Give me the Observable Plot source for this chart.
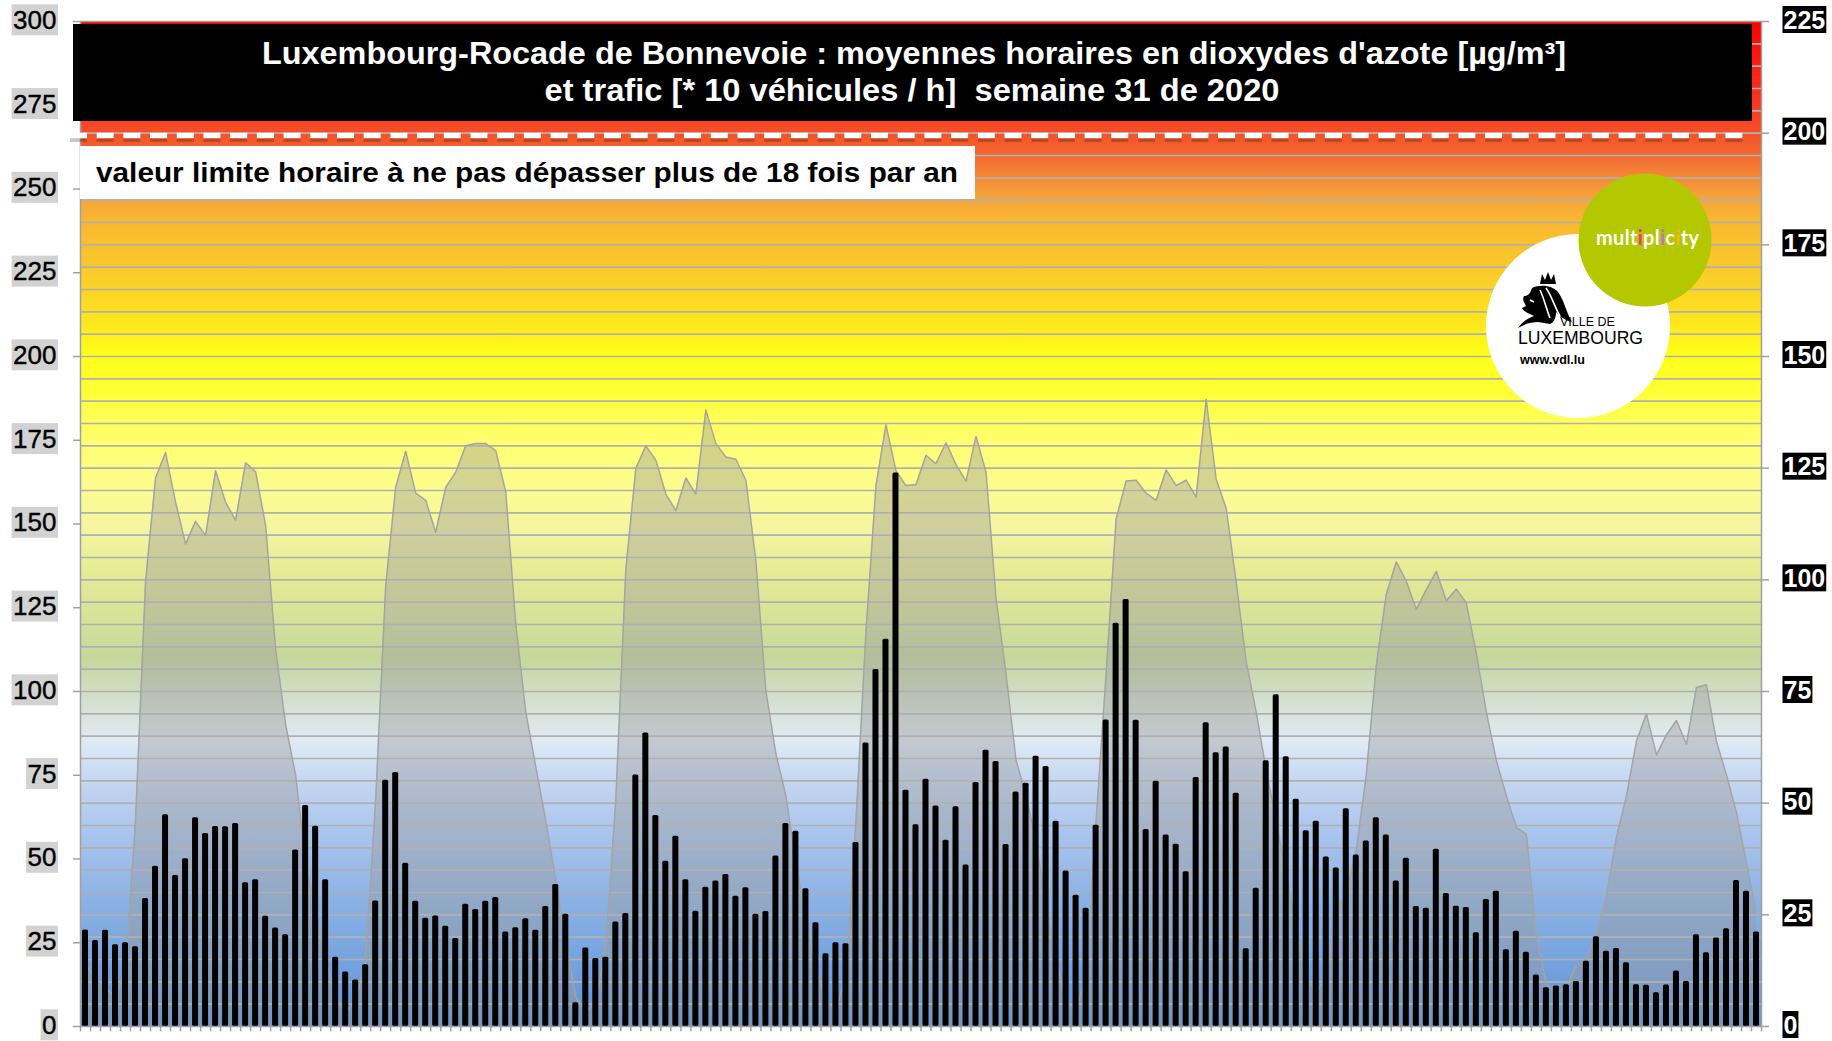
<!DOCTYPE html>
<html><head><meta charset="utf-8">
<script src="https://cdn.jsdelivr.net/npm/d3@7"></script>
<script src="https://cdn.jsdelivr.net/npm/@observablehq/plot@0.6"></script>
<style>
html,body{margin:0;padding:0;background:#fff;}
#chart{position:relative;width:1832px;height:1041px;}
#chart svg{font-family:"Liberation Sans",Arial,sans-serif;display:block;}
</style></head><body><div id="chart"></div>
<script>
// NO2 hourly means [µg/m³], week 31 of 2020 (168 hours)
const no2 = [
28.8,25.7,28.7,24.4,25.0,23.8,38.2,47.8,63.2,45.1,50.1,62.3,57.6,59.7,59.6,60.6,42.9,43.8,32.9,29.4,27.4,52.7,66.0,59.8,
43.8,20.7,16.3,13.9,18.4,37.5,73.5,75.8,48.7,37.4,32.3,33.0,29.9,26.3,36.5,34.9,37.4,38.5,28.2,29.5,32.2,28.7,35.8,42.4,
33.5,7.1,23.4,20.3,20.7,31.2,33.7,75.1,87.6,63.0,49.3,56.8,43.8,34.4,41.6,43.4,45.4,38.9,41.4,33.5,34.3,50.9,60.6,58.3,
41.1,31.0,21.7,25.0,24.7,54.9,84.6,106.6,115.6,165.2,70.5,60.2,73.8,65.8,55.6,65.6,48.2,72.8,82.5,79.1,54.3,70.0,72.6,80.7,
77.6,61.3,46.4,39.2,35.3,60.1,91.5,120.4,127.5,91.4,58.8,73.2,57.2,54.4,46.2,74.3,90.7,81.7,83.4,69.6,23.2,41.3,79.3,99.0,
80.5,67.8,58.4,61.3,50.6,47.3,65.0,51.2,55.4,62.3,57.2,43.4,50.2,35.8,35.3,52.9,39.7,35.9,35.5,28.0,37.9,40.4,22.9,28.4,
22.2,15.4,11.6,12.1,12.5,13.4,19.5,26.8,22.5,23.3,19.0,12.5,12.3,10.1,12.4,16.6,13.4,27.4,22.0,26.4,29.2,43.6,40.4,28.2];

// traffic [* 10 vehicles / h] (right axis)
const traffic = [
14.0,10.9,8.7,6.4,13.1,46.0,99.5,122.8,128.5,117.4,108.0,113.1,109.9,124.4,117.4,113.3,126.2,124.2,112.2,84.5,67.6,56.3,36.6,25.4,
15.0,6.6,3.3,5.6,15.0,50.7,98.6,120.7,128.8,119.4,117.8,110.6,120.7,124.1,130.0,130.5,130.5,128.9,119.7,90.1,70.4,58.2,46.0,32.9,
18.8,6.6,3.3,5.6,17.8,50.7,102.3,124.9,130.0,126.8,119.2,115.5,122.8,119.2,138.0,130.5,127.5,127.0,122.3,104.2,75.1,61.0,51.6,36.6,
24.4,13.1,5.6,3.8,11.3,46.0,88.3,121.1,134.7,124.4,121.1,121.3,127.9,126.0,130.7,125.8,122.1,132.1,124.1,95.8,78.9,59.6,51.6,41.3,
27.2,15.0,5.6,3.8,11.3,46.0,78.9,113.6,122.1,122.3,119.4,117.8,124.6,121.1,122.3,118.5,140.4,122.5,116.0,99.5,81.7,70.4,57.3,46.0,
33.8,22.5,11.3,7.5,11.3,25.4,30.0,39.4,56.3,80.8,96.7,104.0,99.7,93.4,97.8,101.9,95.3,97.9,94.8,83.6,70.4,59.6,51.6,44.6,
43.0,20.7,9.4,7.5,8.9,13.6,15.2,20.7,29.1,42.3,51.6,63.8,70.0,60.8,65.3,68.5,63.2,75.9,76.5,63.8,56.3,47.9,36.6,25.4];

const hours = d3.range(no2.length);
const leftTicks = d3.range(0, 301, 25);
const rightTicks = d3.range(0, 226, 25);
const gridLines = d3.range(5, 225, 5);      // traffic-axis units
const hourBoundaries = d3.range(0, 169).map(k => k - 0.5);
const no2Max = 300, trafficMax = 225;
const limitLine = 266;                       // dashed limit line (left-axis units)
const toLeft = v => v * no2Max / trafficMax;

const title1 = "Luxembourg-Rocade de Bonnevoie : moyennes horaires en dioxydes d'azote [µg/m³]";
const title2 = "et trafic [* 10 véhicules / h]  semaine 31 de 2020";
const subtitle = "valeur limite horaire à ne pas dépasser plus de 18 fois par an";

// background colour bands by left-axis value
const gradientStops = [
  [300,"#ff0000"],[290,"#ff1410"],[278,"#f9301e"],[268,"#f74a25"],[260,"#f36a32"],
  [248,"#f5a23b"],[240,"#f8b830"],[225,"#facb2a"],[212,"#fde21e"],[200,"#ffff18"],
  [190,"#ffff34"],[175,"#ffff6e"],[160,"#fcfc90"],[148,"#f4f5a0"],[135,"#e6eb94"],
  [120,"#d4e19a"],[110,"#c5d79a"],[100,"#d0ddc4"],[90,"#dce6e6"],[85,"#e0eaf5"],
  [75,"#c8d9f1"],[60,"#adc7ed"],[40,"#8fb4e6"],[20,"#77a4df"],[0,"#5e92d8"]];

const plot = Plot.plot({
  width: 1832, height: 1041,
  marginLeft: 80, marginRight: 71, marginTop: 21, marginBottom: 15,
  x: {type: "linear", domain: [-0.5, hours.length - 0.5], axis: null},
  y: {domain: [0, no2Max], axis: null},
  marks: [
    Plot.rect([0], {x1: -0.5, x2: hours.length - 0.5, y1: 0, y2: no2Max, fill: "url(#bgGrad)"}),
    Plot.areaY(hours, {x: h => h, y: h => toLeft(traffic[h]), fill: "#9a9a9a", fillOpacity: 0.42}),
    Plot.ruleY(gridLines, {y: v => toLeft(v), stroke: "#b0b0b0", strokeWidth: 1.6}),
    Plot.lineY(hours, {x: h => h, y: h => toLeft(traffic[h]), stroke: "#a4a4a4", strokeWidth: 1.5}),
    Plot.rectY(hours, {x1: h => h - 0.3, x2: h => h + 0.3, y1: 0, y2: h => no2[h], fill: "#000", rx: 1.5}),
    // axes frame
    Plot.ruleY([0, no2Max], {stroke: "#a0a0a0", strokeWidth: 1.5}),
    Plot.ruleX([-0.5, hours.length - 0.5], {y1: 0, y2: no2Max, stroke: "#a0a0a0", strokeWidth: 1.5}),
    Plot.ruleX(hourBoundaries, {y1: 0, y2: -1.6, stroke: "#a0a0a0", strokeWidth: 1.5}),
    Plot.ruleY(leftTicks, {x1: -1.2, x2: -0.5, stroke: "#a0a0a0", strokeWidth: 1.5}),
    Plot.ruleY(rightTicks, {y: v => toLeft(v), x1: hours.length - 0.5, x2: hours.length + 0.3, stroke: "#a0a0a0", strokeWidth: 1.5}),
    // limit line with shadow
    Plot.ruleY([limitLine], {x1: -1.5, x2: 165.9, dy: 3.5, stroke: "#000", strokeOpacity: 0.22, strokeWidth: 6, strokeDasharray: "17,9.7"}),
    Plot.ruleY([limitLine], {x1: -1.5, x2: 165.9, stroke: "#fff", strokeWidth: 5.5, strokeDasharray: "17,9.7"}),
    // tick labels
    Plot.text(leftTicks, {x: -0.5, y: d => d, text: d => String(d), textAnchor: "end", dx: -24, dy: -1, fontSize: 26, fill: "#000", stroke: "#000", strokeWidth: 0.4}),
    Plot.text(rightTicks, {x: hours.length - 0.5, y: v => toLeft(v), text: v => String(v), textAnchor: "start", dx: 22, dy: -1, fontSize: 25, fontWeight: "bold", fill: "#fff"})
  ]
});

document.getElementById("chart").appendChild(plot);
const svg = d3.select(plot);

// gradient definition
const defs = svg.insert("defs", ":first-child");
const lg = defs.append("linearGradient").attr("id", "bgGrad").attr("x1", 0).attr("y1", 0).attr("x2", 0).attr("y2", 1);
gradientStops.forEach(([v, c]) => lg.append("stop").attr("offset", (1 - v / no2Max)).attr("stop-color", c));

// label background boxes
const textGroups = svg.selectAll('g[aria-label="text"]').nodes();
function addBoxes(g, fill, px, py) {
  d3.select(g).selectAll("text").each(function () {
    const b = this.getBBox();
    const r = document.createElementNS("http://www.w3.org/2000/svg", "rect");
    r.setAttribute("x", b.x - px); r.setAttribute("y", b.y - py);
    r.setAttribute("width", b.width + 2 * px); r.setAttribute("height", b.height + 2 * py);
    r.setAttribute("fill", fill); r.setAttribute("stroke", "none");
    const t = this.getAttribute("transform"); if (t) r.setAttribute("transform", t);
    this.parentNode.insertBefore(r, this);
  });
}
addBoxes(textGroups[0], "#d2d2d2", 1.5, 0.5);
addBoxes(textGroups[1], "#000", 1, -0.5);

// title block
const deco = svg.append("g").attr("text-anchor", "start");
deco.append("rect").attr("x", 73).attr("y", 24).attr("width", 1679).attr("height", 97).attr("fill", "#000");
deco.append("text").attr("x", 914).attr("y", 64).attr("text-anchor", "middle").attr("fill", "#fff")
  .attr("font-weight", "bold").attr("font-size", 31)
  .attr("textLength", 1304).attr("lengthAdjust", "spacingAndGlyphs").text(title1);
deco.append("text").attr("x", 912).attr("y", 101).attr("text-anchor", "middle").attr("fill", "#fff")
  .attr("font-weight", "bold").attr("font-size", 31).style("white-space", "pre")
  .attr("textLength", 735).attr("lengthAdjust", "spacingAndGlyphs").text(title2);

// subtitle box
deco.append("rect").attr("x", 80).attr("y", 146).attr("width", 895).attr("height", 53).attr("fill", "#fff");
deco.append("text").attr("x", 96).attr("y", 182).attr("text-anchor", "start").attr("fill", "#000")
  .attr("font-weight", "bold").attr("font-size", 27.5)
  .attr("textLength", 862).attr("lengthAdjust", "spacingAndGlyphs").text(subtitle);

// logos
const logo = svg.append("g").attr("text-anchor", "start");
logo.append("circle").attr("cx", 1578).attr("cy", 326).attr("r", 92).attr("fill", "#fff");
logo.append("circle").attr("cx", 1645).attr("cy", 240).attr("r", 66.5).attr("fill", "#b3c800");
const mt = logo.append("text").attr("x", 1596).attr("y", 245).attr("text-anchor", "start")
  .attr("font-family", "Lato, 'Open Sans', sans-serif").attr("font-weight", "bold").attr("font-size", 20)
  .attr("letter-spacing", 0.3).attr("fill", "#fff");
[["mult","#fff"],["i","#ff2a8c"],["pl","#fff"],["i","#c070e0"],["c","#fff"],["i","#ffb020"],["ty","#fff"]]
  .forEach(([s, c]) => mt.append("tspan").attr("fill", c).text(s));
const lion = logo.append("g").attr("transform", "translate(1510,272)");
lion.append("path").attr("fill", "#000")
  .attr("d", "M30,12 L32,2 L35,8 L38,0 L41,8 L44,2 L46,12 Z");
lion.append("path").attr("fill", "#000")
  .attr("d", "M22,16 C30,12 42,13 48,20 C54,28 56,40 62,50 C54,48 50,44 46,40 C46,46 44,50 40,52 L28,50 C22,50 14,52 8,56 C12,50 18,46 24,44 C20,42 14,40 12,36 L16,34 C14,30 12,28 14,24 C18,24 20,22 22,16 Z");
lion.append("path").attr("fill", "none").attr("stroke", "#fff").attr("stroke-width", 1.6)
  .attr("d", "M36,16 C42,24 44,34 50,44 M30,18 C34,26 36,36 40,46 M20,28 L24,30");
logo.append("text").attr("x", 1560).attr("y", 326).attr("text-anchor", "start").attr("font-size", 12.5).attr("fill", "#000").text("VILLE DE");
logo.append("text").attr("x", 1518).attr("y", 344).attr("text-anchor", "start").attr("font-size", 18.5)
  .attr("textLength", 125).attr("lengthAdjust", "spacingAndGlyphs").attr("fill", "#000").text("LUXEMBOURG");
logo.append("text").attr("x", 1520).attr("y", 364).attr("text-anchor", "start").attr("font-size", 12.5).attr("font-weight", "bold").attr("fill", "#000").text("www.vdl.lu");
</script></body></html>
